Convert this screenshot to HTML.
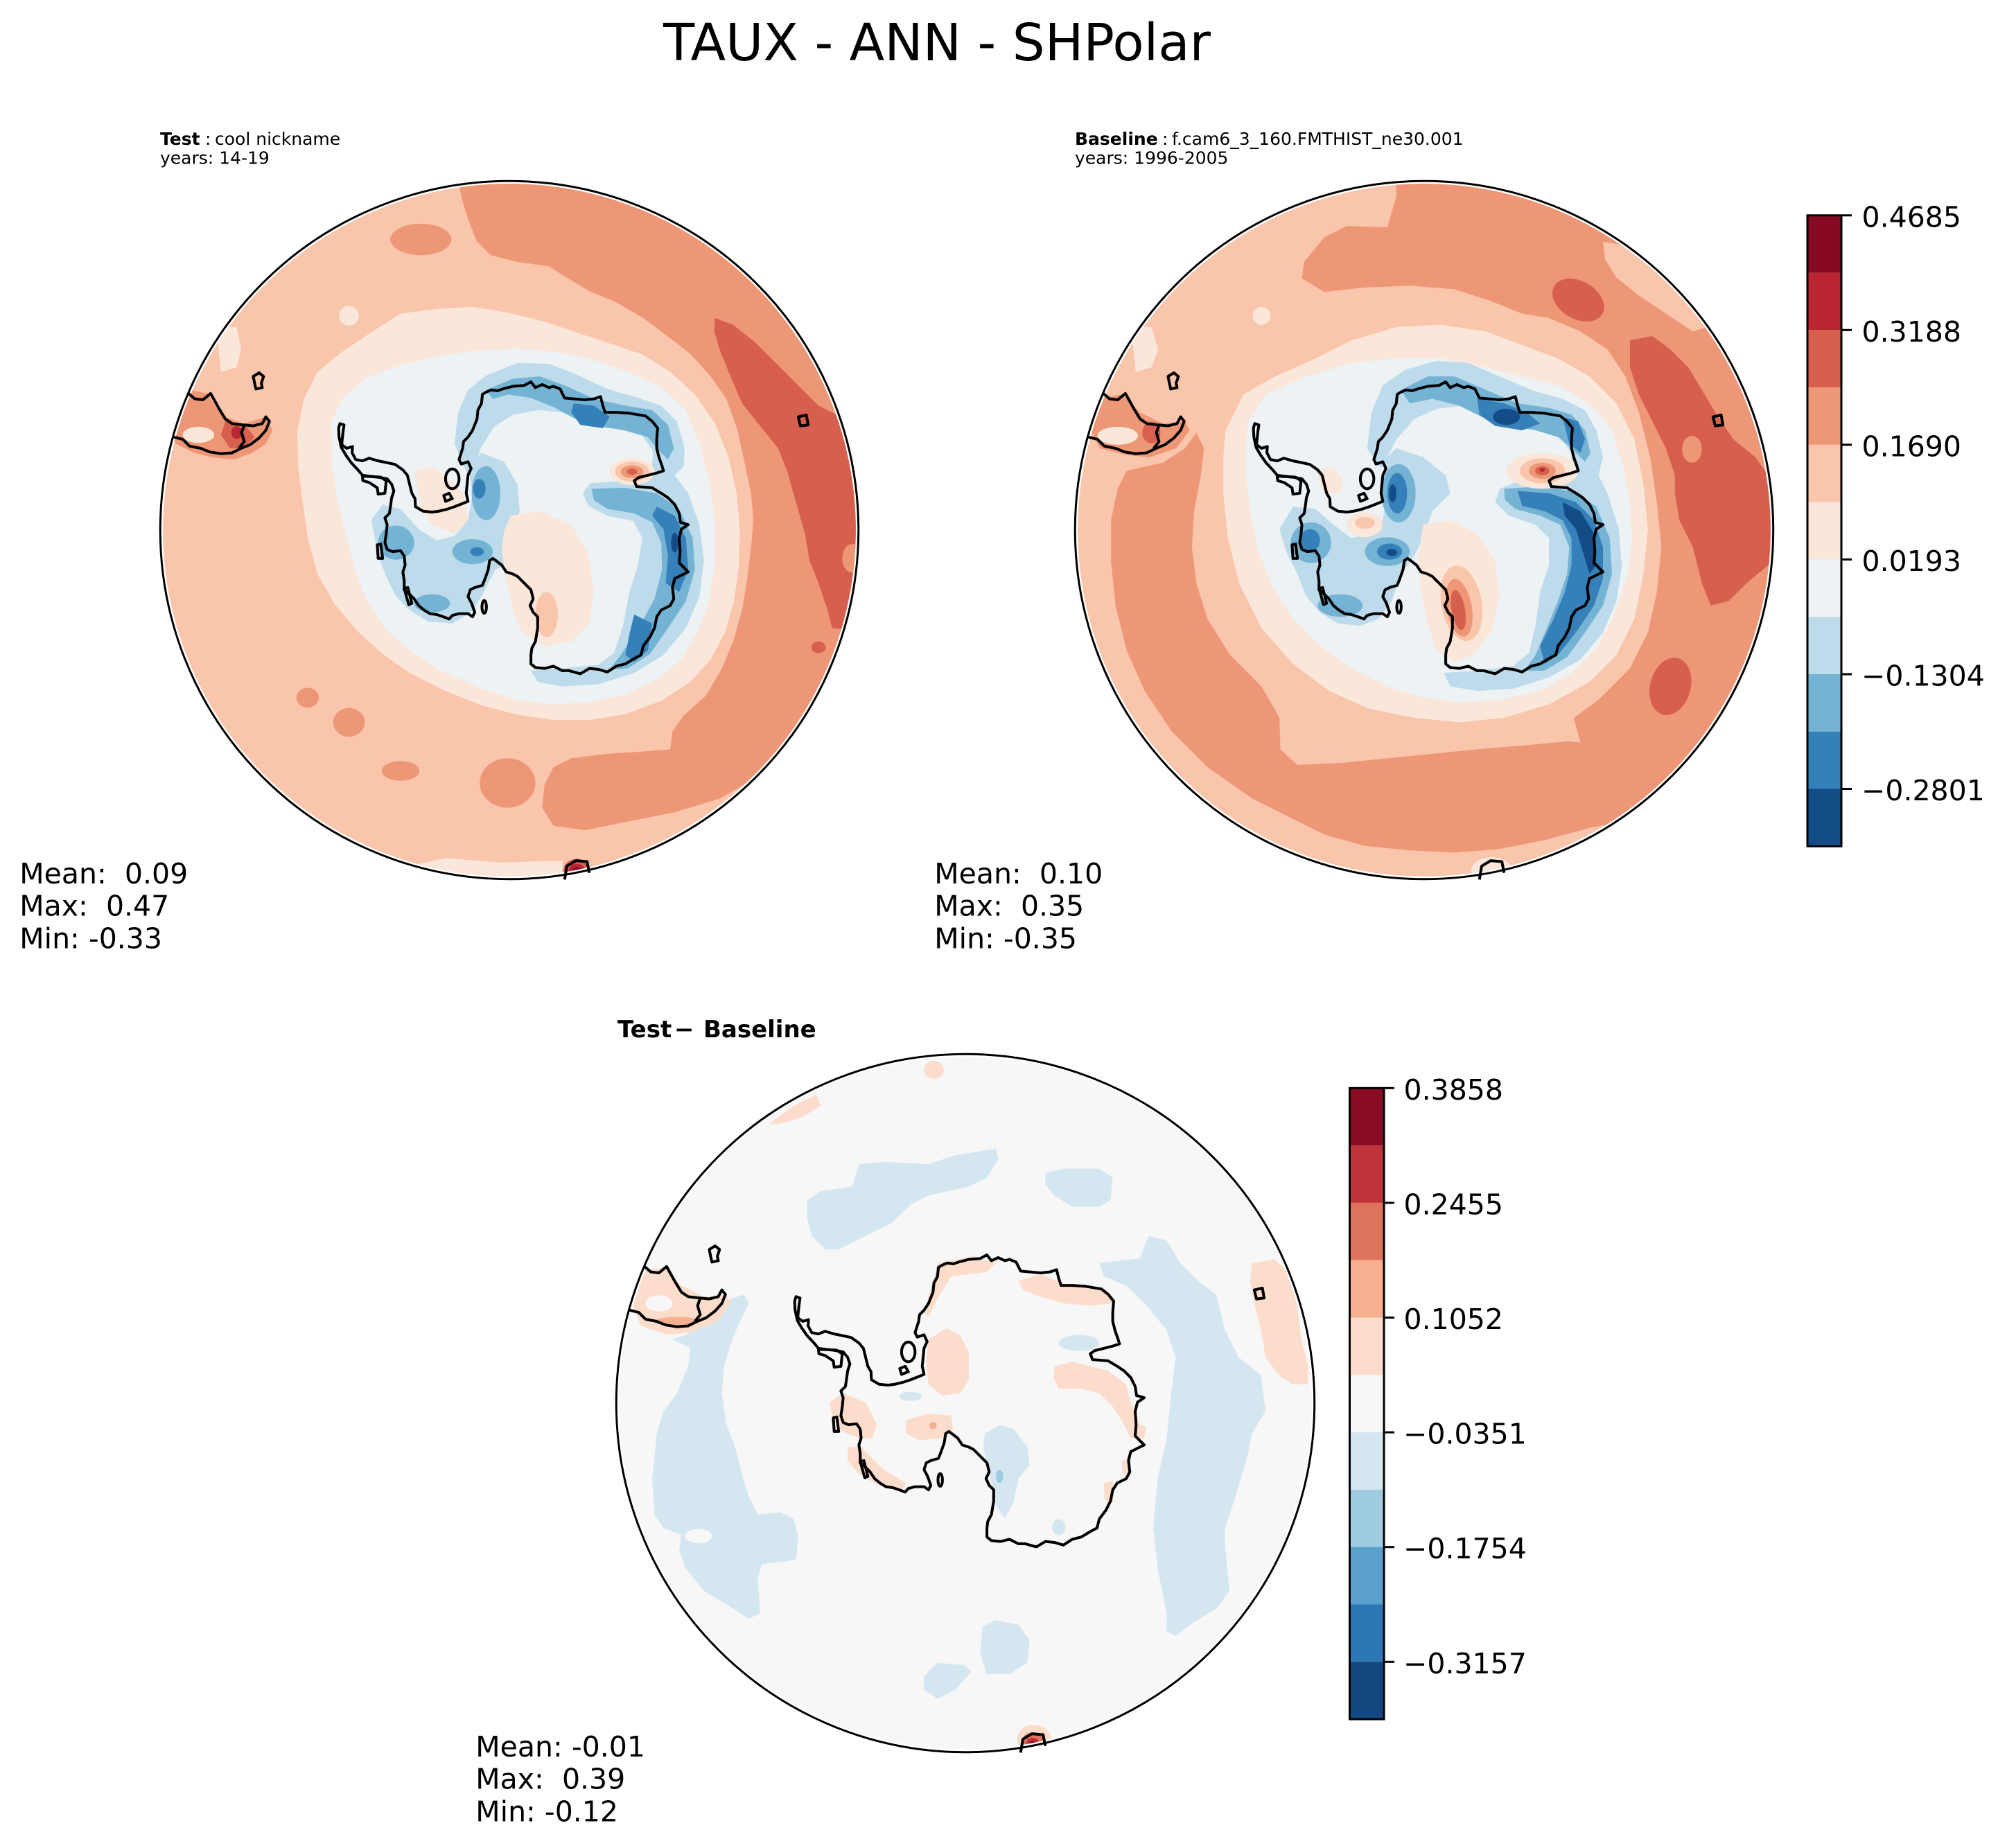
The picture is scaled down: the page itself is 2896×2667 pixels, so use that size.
<!DOCTYPE html>
<html>
<head>
<meta charset="utf-8">
<style>
html,body{margin:0;padding:0;background:#ffffff;}
body{width:2896px;height:2667px;overflow:hidden;}
svg{display:block;}
text{font-family:"DejaVu Sans","Liberation Sans",sans-serif;fill:#000;}
</style>
</head>
<body>
<svg xmlns="http://www.w3.org/2000/svg" width="2896" height="2667" viewBox="0 0 2896 2667">
<defs>
<clipPath id="cc" clipPathUnits="userSpaceOnUse"><circle cx="782" cy="782" r="771"/></clipPath>
</defs>
<rect x="0" y="0" width="2896" height="2667" fill="#ffffff"/>

<!-- Title -->
<text x="957" y="87" font-size="74">TAUX - ANN - SHPolar</text>

<!-- Headers -->
<text x="231" y="209" font-size="25"><tspan font-weight="bold">Test</tspan><tspan x="296">:</tspan><tspan x="310">cool nickname</tspan></text>
<text x="231" y="236.7" font-size="25">years: 14-19</text>
<text x="1551" y="209" font-size="25"><tspan font-weight="bold">Baseline</tspan><tspan x="1677">:</tspan><tspan x="1691">f.cam6_3_160.FMTHIST_ne30.001</tspan></text>
<text x="1551" y="236.7" font-size="25">years: 1996-2005</text>
<text x="891" y="1497" font-size="34" font-weight="bold"><tspan>Test</tspan><tspan x="973">−</tspan><tspan x="1015">Baseline</tspan></text>

<!-- Stats -->
<g font-size="41" xml:space="preserve">
<text x="28.3" y="1275" xml:space="preserve">Mean:  0.09</text>
<text x="28.3" y="1321.7" xml:space="preserve">Max:  0.47</text>
<text x="28.3" y="1368.3" xml:space="preserve">Min: -0.33</text>
<text x="1348.3" y="1275" xml:space="preserve">Mean:  0.10</text>
<text x="1348.3" y="1321.7" xml:space="preserve">Max:  0.35</text>
<text x="1348.3" y="1368.3" xml:space="preserve">Min: -0.35</text>
<text x="686.3" y="2535" xml:space="preserve">Mean: -0.01</text>
<text x="686.3" y="2581.7" xml:space="preserve">Max:  0.39</text>
<text x="686.3" y="2628.3" xml:space="preserve">Min: -0.12</text>
</g>

<!-- ================= TOP-LEFT MAP (Test) ================= -->
<g transform="translate(228,258) scale(0.64832)">
<g clip-path="url(#cc)">
<circle cx="782" cy="782" r="773" fill="#f9c5ab"/>
<polygon fill="#fbe6da" points="130,330 175,330 185,380 175,420 140,430"/>
<polygon fill="#fbe6da" points="560,1530 640,1512 760,1522 900,1518 900,1600 560,1600"/>
<polygon fill="#ee9777" points="665,-20 1600,-20 1600,1330 1330,1335 1250,1380 1150,1410 1050,1430 950,1450 880,1440 855,1400 860,1350 880,1310 920,1290 1000,1280 1080,1275 1140,1270 1145,1230 1170,1195 1220,1150 1255,1090 1280,1030 1300,960 1310,900 1320,820 1325,760 1320,700 1305,630 1290,560 1265,490 1230,440 1185,390 1140,355 1080,310 1020,275 960,250 910,220 870,195 800,185 740,170 710,140 690,90 675,40"/>
<polygon fill="#d6604d" points="1240,310 1280,325 1330,365 1380,415 1430,465 1470,505 1540,540 1600,560 1600,1010 1540,1005 1500,1000 1490,960 1470,900 1450,850 1440,790 1420,720 1400,650 1380,600 1340,550 1300,500 1270,430 1250,380 1238,340"/>
<ellipse cx="1545" cy="845" rx="22" ry="32" fill="#ee9777"/>
<ellipse cx="1470" cy="1043" rx="16" ry="13" fill="#d6604d"/>
<ellipse cx="585" cy="135" rx="68" ry="35" fill="#ee9777"/>
<ellipse cx="333" cy="1155" rx="25" ry="22" fill="#ee9777"/>
<ellipse cx="425" cy="1210" rx="35" ry="32" fill="#ee9777"/>
<ellipse cx="540" cy="1318" rx="42" ry="22" fill="#ee9777"/>
<ellipse cx="778" cy="1345" rx="62" ry="55" fill="#ee9777"/>
<!-- South America -->
<polygon fill="#ee9777" points="30,470 70,470 110,478 130,510 150,530 190,545 240,530 255,560 240,590 210,610 170,625 120,620 80,610 40,590 20,560"/>
<ellipse cx="90" cy="570" rx="35" ry="18" fill="#fbe6da"/>
<polygon fill="#d6604d" points="150,540 195,550 215,575 190,600 160,600 140,570"/>
<ellipse cx="175" cy="565" rx="12" ry="14" fill="#b92632"/>
<!-- rings -->
<polygon fill="#fbe6da" points="310,560 325,490 355,430 410,385 470,345 540,300 620,290 700,285 780,298 860,318 940,345 1010,368 1080,392 1140,430 1195,480 1240,545 1270,620 1288,700 1295,780 1293,860 1282,940 1262,1010 1230,1070 1185,1120 1120,1162 1040,1192 960,1205 880,1205 800,1193 720,1172 640,1140 560,1100 500,1058 445,1008 395,950 355,880 333,800 322,720 312,640"/>
<circle cx="425" cy="305" r="22" fill="#fbe6da"/>
<polygon fill="#edf2f5" points="385,545 410,490 460,445 530,418 610,398 700,383 800,378 880,385 960,400 1040,428 1115,460 1175,515 1205,590 1228,680 1240,770 1240,860 1225,945 1200,1010 1165,1070 1110,1115 1040,1148 960,1165 880,1170 800,1160 720,1135 630,1095 560,1050 505,1000 465,940 438,870 420,800 400,720 388,640"/>
<!-- blues -->
<polygon fill="#bddbea" points="660,590 668,520 690,470 730,438 800,410 870,412 930,435 1000,468 1070,488 1120,505 1155,540 1172,600 1170,640 1150,660 1180,700 1205,770 1215,850 1205,930 1175,1000 1125,1060 1060,1100 980,1125 900,1130 845,1120 830,1095 900,1090 980,1082 1015,1055 1035,995 1048,925 1068,860 1078,800 1058,762 1000,750 958,728 945,700 962,678 1040,672 1098,655 1102,608 1078,572 1020,556 950,540 900,520 848,515 790,525 748,552 718,600 705,640 690,660"/>
<polygon fill="#bddbea" points="475,760 500,725 540,735 580,780 620,805 660,795 690,760 700,700 690,640 720,610 770,630 800,680 805,740 790,790 800,820 790,855 750,870 725,920 700,962 655,990 600,985 560,960 530,930 510,890 490,840"/>
<polygon fill="#75b3d4" points="730,470 790,445 850,440 910,462 970,490 1040,505 1100,515 1135,548 1148,600 1135,625 1110,600 1090,575 1040,560 985,552 930,535 880,508 830,488 780,480 745,490"/>
<polygon fill="#75b3d4" points="965,690 1040,688 1110,700 1160,735 1190,800 1195,870 1175,940 1135,1000 1095,1058 1045,1090 1005,1092 1030,1060 1070,1000 1105,935 1122,870 1120,810 1100,765 1060,745 1000,735 970,715"/>
<ellipse cx="730" cy="700" rx="32" ry="60" fill="#75b3d4"/>
<ellipse cx="530" cy="810" rx="40" ry="38" fill="#75b3d4"/>
<ellipse cx="700" cy="830" rx="45" ry="28" fill="#75b3d4"/>
<ellipse cx="610" cy="945" rx="40" ry="20" fill="#75b3d4"/>
<polygon fill="#3580b9" points="1110,730 1150,750 1175,800 1180,870 1160,920 1130,900 1135,840 1125,780 1100,750"/>
<polygon fill="#3580b9" points="1060,970 1100,990 1090,1050 1060,1075 1040,1060 1050,1010"/>
<polygon fill="#3580b9" points="925,500 970,505 1005,530 990,555 940,548 920,520"/>
<ellipse cx="715" cy="690" rx="14" ry="22" fill="#3580b9"/>
<ellipse cx="710" cy="830" rx="15" ry="10" fill="#3580b9"/>
<ellipse cx="1150" cy="810" rx="8" ry="22" fill="#144c88"/>
<!-- interior positives -->
<polygon fill="#fbe6da" points="785,750 850,740 920,770 955,830 970,910 960,990 920,1030 860,1040 810,1010 790,960 775,890 765,830 770,785"/>
<ellipse cx="865" cy="970" rx="25" ry="50" fill="#f9c5ab"/>
<polygon fill="#fbe6da" points="570,650 610,640 640,660 680,700 690,760 660,790 610,770 585,730"/>
<ellipse cx="1055" cy="652" rx="50" ry="30" fill="#fbe6da"/>
<ellipse cx="1055" cy="652" rx="38" ry="22" fill="#f9c5ab"/>
<ellipse cx="1055" cy="652" rx="25" ry="14" fill="#ee9777"/>
<ellipse cx="1055" cy="652" rx="12" ry="7" fill="#d6604d"/>
<!-- bottom spot -->
<ellipse cx="932" cy="1540" rx="30" ry="26" fill="#d6604d"/>
<ellipse cx="932" cy="1540" rx="18" ry="15" fill="#b92632"/>
<ellipse cx="932" cy="1540" rx="10" ry="8" fill="#870a24"/>
</g>
<g fill="none" stroke="#000" stroke-width="6.2" stroke-linejoin="round">
<path d="M405,545 L414,548 L412,562 L410,580 L409,592 L420,600 L433,596 L432,610 L440,625 L455,628 L470,622 L490,628 L510,632 L528,636 L545,648 L555,660 L560,680 L565,700 L572,712 L573,730 L590,740 L610,742 L625,740 L645,735 L660,730 L680,722 L690,718 L686,700 L688,680 L690,660 L697,645 L690,630 L675,635 L670,625 L678,600 L680,585 L690,575 L700,560 L710,535 L712,515 L720,500 L722,480 L730,475 L742,470 L755,472 L770,467 L790,462 L815,460 L830,452 L840,465 L855,458 L870,465 L880,462 L895,468 L905,488 L925,490 L950,492 L970,490 L985,485 L990,505 L995,520 L1020,520 L1050,522 L1085,528 L1100,540 L1112,555 L1110,580 L1110,600 L1115,620 L1122,640 L1125,650 L1110,655 L1090,660 L1070,665 L1060,672 L1065,685 L1100,688 L1120,700 L1135,710 L1150,725 L1160,745 L1163,765 L1180,770 L1165,780 L1160,800 L1162,830 L1160,855 L1170,865 L1180,875 L1160,885 L1150,890 L1145,910 L1148,935 L1140,950 L1120,960 L1110,975 L1105,1000 L1095,1020 L1080,1040 L1075,1060 L1060,1068 L1040,1080 L1020,1085 L1000,1098 L980,1092 L960,1090 L940,1102 L915,1095 L900,1095 L880,1085 L860,1090 L840,1088 L830,1080 L830,1060 L832,1045 L840,1030 L845,1000 L845,975 L835,965 L828,950 L835,935 L830,915 L815,900 L800,885 L790,880 L775,875 L765,860 L752,850 L745,845 L738,850 L735,870 L728,890 L722,905 L705,910 L695,915 L690,930 L698,945 L705,965 L700,975 L690,968 L670,968 L655,972 L648,980 L635,975 L620,970 L605,968 L592,960 L580,950 L570,935 L560,925 L548,915 L548,895 L545,875 L550,860 L548,840 L540,828 L522,830 L510,825 L505,810 L508,790 L510,770 L505,755 L515,745 L518,725 L520,710 L525,695 L520,680 L510,668 L495,665 L470,662 L455,660 L445,648 L430,632 L418,615 L408,598 L403,575 L402,555 Z"/>
<path d="M455,662 L495,664 L508,672 L505,700 L490,702 L488,688 L470,676 L456,672 Z"/>
<ellipse cx="655" cy="668" rx="15" ry="22"/>
<path d="M636,705 L648,700 L655,712 L640,718 Z"/>
<path d="M488,815 L496,813 L500,845 L490,845 Z"/>
<ellipse cx="726" cy="953" rx="5" ry="14"/>
<path d="M548,912 L556,910 L565,945 L558,948 Z"/>
<path d="M35,575 L55,580 L70,595 L95,600 L115,608 L140,612 L165,610 L185,600 L205,592 L225,577 L240,560 L248,540 L240,530 L232,545 L212,550 L192,548 L186,565 L192,585 L180,600"/>
<path d="M68,478 L82,490 L100,492 L117,478 L126,494 L136,512 L150,535 L165,545 L190,548"/>
<path d="M212,440 L225,432 L235,440 L230,455 L232,465 L218,468 L215,455 Z"/>
<path d="M1425,530 L1443,526 L1447,548 L1430,550 Z"/>
<path d="M905,1560 L910,1530 L930,1518 L955,1520 L960,1545"/>
</g>
<circle cx="782" cy="782" r="777" fill="none" stroke="#000" stroke-width="4.6"/>
</g>

<!-- ================= TOP-RIGHT MAP (Baseline) ================= -->
<g transform="translate(1548,258) scale(0.64832)">
<g clip-path="url(#cc)">
<circle cx="782" cy="782" r="773" fill="#f9c5ab"/>
<polygon fill="#fbe6da" points="130,330 175,330 190,380 175,420 140,430"/>
<polygon fill="#ee9777" points="720,-20 1620,-20 1620,1330 1330,1420 1230,1430 1150,1445 1050,1472 950,1492 850,1500 750,1495 650,1485 560,1460 480,1420 400,1380 300,1310 220,1230 160,1140 120,1050 95,950 85,850 85,760 100,690 120,650 200,632 250,600 275,565 292,600 285,660 270,740 265,820 275,900 300,980 350,1060 420,1130 460,1200 462,1270 500,1305 600,1300 700,1290 800,1280 900,1270 1000,1262 1100,1252 1130,1255 1115,1200 1170,1160 1240,1090 1280,1010 1300,920 1310,820 1300,720 1285,620 1260,520 1230,440 1190,380 1130,340 1060,310 1000,300 930,272 850,246 750,238 650,242 560,252 510,222 515,185 560,130 610,105 700,108 720,40"/>
<polygon fill="#f9c5ab" points="1180,140 1240,150 1300,200 1360,260 1410,330 1380,340 1320,300 1260,260 1210,220 1185,180"/>
<polygon fill="#d6604d" points="1240,360 1290,350 1330,380 1370,420 1400,470 1430,520 1470,580 1520,620 1560,680 1560,850 1500,900 1460,940 1420,950 1400,900 1380,820 1350,760 1340,700 1340,660 1320,600 1290,540 1260,480 1240,420"/>
<ellipse cx="1378" cy="602" rx="22" ry="30" fill="#ee9777"/>
<ellipse cx="1125" cy="270" rx="62" ry="42" transform="rotate(30 1125 270)" fill="#d6604d"/>
<ellipse cx="1330" cy="1130" rx="45" ry="65" transform="rotate(15 1330 1130)" fill="#d6604d"/>
<!-- South America -->
<polygon fill="#ee9777" points="50,490 110,480 150,520 200,545 250,540 260,560 230,600 170,620 120,615 60,600 40,560"/>
<ellipse cx="100" cy="572" rx="45" ry="20" fill="#fbe6da"/>
<ellipse cx="175" cy="565" rx="20" ry="24" fill="#d6604d"/>
<!-- rings -->
<polygon fill="#fbe6da" points="340,560 380,480 450,440 540,400 620,360 720,330 820,325 920,340 1000,370 1080,400 1150,440 1210,500 1250,580 1270,680 1280,780 1270,880 1250,980 1210,1060 1150,1120 1060,1170 960,1200 860,1210 760,1200 660,1180 570,1140 490,1080 420,1000 370,900 345,800 335,700 335,620"/>
<circle cx="420" cy="305" r="20" fill="#fbe6da"/>
<polygon fill="#edf2f5" points="390,540 430,480 520,440 620,410 720,400 820,400 920,420 1000,440 1080,460 1150,500 1200,560 1225,640 1240,720 1245,800 1235,880 1210,960 1170,1040 1110,1100 1040,1140 950,1160 860,1165 780,1155 700,1130 620,1090 550,1040 490,980 440,900 410,820 395,740 385,660 385,600"/>
<!-- blues -->
<polygon fill="#bddbea" points="655,600 665,520 690,460 740,425 810,405 880,410 950,440 1020,470 1090,490 1140,515 1165,560 1180,620 1170,660 1190,700 1215,780 1222,860 1210,940 1180,1010 1130,1070 1060,1110 980,1135 900,1140 840,1130 825,1100 900,1095 980,1085 1015,1055 1030,995 1040,920 1060,860 1060,800 1030,770 970,750 940,720 950,690 1000,670 1060,672 1110,658 1110,610 1080,570 1000,545 930,520 870,505 810,512 760,535 720,580 700,620 685,645"/>
<polygon fill="#bddbea" points="460,780 490,730 540,735 580,770 620,800 660,790 690,760 700,690 690,630 720,600 780,620 830,660 840,700 800,740 780,800 760,840 730,880 710,940 680,980 640,995 590,990 550,965 520,930 500,880 475,830"/>
<polygon fill="#75b3d4" points="730,470 790,440 850,440 920,470 990,500 1060,510 1110,525 1140,560 1152,610 1140,630 1110,600 1080,575 1030,560 970,550 910,530 860,505 800,490 750,500"/>
<polygon fill="#75b3d4" points="960,690 1040,685 1110,695 1165,730 1195,800 1200,880 1180,950 1140,1010 1100,1065 1050,1095 1005,1095 1030,1060 1055,1000 1080,940 1100,880 1105,820 1085,770 1040,750 985,735 962,715"/>
<ellipse cx="725" cy="700" rx="38" ry="65" fill="#75b3d4"/>
<ellipse cx="530" cy="810" rx="45" ry="45" fill="#75b3d4"/>
<ellipse cx="700" cy="830" rx="50" ry="32" fill="#75b3d4"/>
<ellipse cx="595" cy="950" rx="50" ry="25" fill="#75b3d4"/>
<polygon fill="#3580b9" points="900,490 960,500 1010,520 1040,545 1000,560 940,550 905,525"/>
<polygon fill="#3580b9" points="1090,530 1125,540 1140,580 1130,610 1105,590"/>
<polygon fill="#3580b9" points="990,695 1060,700 1120,720 1160,760 1180,820 1180,890 1160,950 1120,1010 1080,1060 1050,1080 1040,1040 1070,980 1095,920 1110,860 1110,800 1090,760 1050,740 1000,728"/>
<ellipse cx="722" cy="700" rx="22" ry="45" fill="#3580b9"/>
<ellipse cx="528" cy="805" rx="22" ry="25" fill="#3580b9"/>
<ellipse cx="705" cy="830" rx="28" ry="18" fill="#3580b9"/>
<ellipse cx="965" cy="530" rx="30" ry="18" fill="#144c88"/>
<polygon fill="#144c88" points="1090,720 1130,740 1160,790 1165,860 1150,880 1135,830 1120,780 1095,750"/>
<ellipse cx="712" cy="700" rx="8" ry="20" fill="#144c88"/>
<ellipse cx="710" cy="832" rx="12" ry="8" fill="#144c88"/>
<!-- interior positives -->
<polygon fill="#fbe6da" points="780,770 840,760 900,790 940,850 950,930 930,1010 890,1060 850,1075 810,1050 790,990 775,920 768,850"/>
<ellipse cx="865" cy="945" rx="45" ry="85" transform="rotate(-10 865 945)" fill="#f9c5ab"/>
<ellipse cx="860" cy="955" rx="28" ry="65" transform="rotate(-10 860 955)" fill="#ee9777"/>
<ellipse cx="858" cy="960" rx="15" ry="45" transform="rotate(-10 858 960)" fill="#d6604d"/>
<ellipse cx="650" cy="770" rx="40" ry="28" fill="#fbe6da"/>
<ellipse cx="650" cy="766" rx="22" ry="13" fill="#f9c5ab"/>
<polygon fill="#fbe6da" points="540,650 580,640 600,670 595,700 560,700"/>
<ellipse cx="1045" cy="650" rx="80" ry="40" fill="#fbe6da"/>
<ellipse cx="1045" cy="650" rx="50" ry="28" fill="#f9c5ab"/>
<ellipse cx="1045" cy="650" rx="30" ry="18" fill="#ee9777"/>
<ellipse cx="1045" cy="650" rx="16" ry="10" fill="#d6604d"/>
<ellipse cx="1045" cy="648" rx="6" ry="4" fill="#b92632"/>
<ellipse cx="932" cy="1540" rx="45" ry="30" fill="#fbe6da"/>
</g>
<g fill="none" stroke="#000" stroke-width="6.2" stroke-linejoin="round">
<path d="M405,545 L414,548 L412,562 L410,580 L409,592 L420,600 L433,596 L432,610 L440,625 L455,628 L470,622 L490,628 L510,632 L528,636 L545,648 L555,660 L560,680 L565,700 L572,712 L573,730 L590,740 L610,742 L625,740 L645,735 L660,730 L680,722 L690,718 L686,700 L688,680 L690,660 L697,645 L690,630 L675,635 L670,625 L678,600 L680,585 L690,575 L700,560 L710,535 L712,515 L720,500 L722,480 L730,475 L742,470 L755,472 L770,467 L790,462 L815,460 L830,452 L840,465 L855,458 L870,465 L880,462 L895,468 L905,488 L925,490 L950,492 L970,490 L985,485 L990,505 L995,520 L1020,520 L1050,522 L1085,528 L1100,540 L1112,555 L1110,580 L1110,600 L1115,620 L1122,640 L1125,650 L1110,655 L1090,660 L1070,665 L1060,672 L1065,685 L1100,688 L1120,700 L1135,710 L1150,725 L1160,745 L1163,765 L1180,770 L1165,780 L1160,800 L1162,830 L1160,855 L1170,865 L1180,875 L1160,885 L1150,890 L1145,910 L1148,935 L1140,950 L1120,960 L1110,975 L1105,1000 L1095,1020 L1080,1040 L1075,1060 L1060,1068 L1040,1080 L1020,1085 L1000,1098 L980,1092 L960,1090 L940,1102 L915,1095 L900,1095 L880,1085 L860,1090 L840,1088 L830,1080 L830,1060 L832,1045 L840,1030 L845,1000 L845,975 L835,965 L828,950 L835,935 L830,915 L815,900 L800,885 L790,880 L775,875 L765,860 L752,850 L745,845 L738,850 L735,870 L728,890 L722,905 L705,910 L695,915 L690,930 L698,945 L705,965 L700,975 L690,968 L670,968 L655,972 L648,980 L635,975 L620,970 L605,968 L592,960 L580,950 L570,935 L560,925 L548,915 L548,895 L545,875 L550,860 L548,840 L540,828 L522,830 L510,825 L505,810 L508,790 L510,770 L505,755 L515,745 L518,725 L520,710 L525,695 L520,680 L510,668 L495,665 L470,662 L455,660 L445,648 L430,632 L418,615 L408,598 L403,575 L402,555 Z"/>
<path d="M455,662 L495,664 L508,672 L505,700 L490,702 L488,688 L470,676 L456,672 Z"/>
<ellipse cx="655" cy="668" rx="15" ry="22"/>
<path d="M636,705 L648,700 L655,712 L640,718 Z"/>
<path d="M488,815 L496,813 L500,845 L490,845 Z"/>
<ellipse cx="726" cy="953" rx="5" ry="14"/>
<path d="M548,912 L556,910 L565,945 L558,948 Z"/>
<path d="M35,575 L55,580 L70,595 L95,600 L115,608 L140,612 L165,610 L185,600 L205,592 L225,577 L240,560 L248,540 L240,530 L232,545 L212,550 L192,548 L186,565 L192,585 L180,600"/>
<path d="M68,478 L82,490 L100,492 L117,478 L126,494 L136,512 L150,535 L165,545 L190,548"/>
<path d="M212,440 L225,432 L235,440 L230,455 L232,465 L218,468 L215,455 Z"/>
<path d="M1425,530 L1443,526 L1447,548 L1430,550 Z"/>
<path d="M905,1560 L910,1530 L930,1518 L955,1520 L960,1545"/>
</g>
<circle cx="782" cy="782" r="777" fill="none" stroke="#000" stroke-width="4.6"/>
</g>

<!-- ================= BOTTOM MAP (Diff) ================= -->
<g transform="translate(886,1518) scale(0.64832)">
<g clip-path="url(#cc)">
<circle cx="782" cy="782" r="773" fill="#f7f7f7"/>
<!-- blue patches -->
<polygon fill="#d4e7f1" points="430,330 460,310 530,300 545,250 600,245 700,250 760,230 850,215 855,240 830,280 790,300 700,320 660,340 620,380 560,410 500,440 470,440 440,410 430,370"/>
<polygon fill="#d4e7f1" points="960,270 1000,260 1080,260 1110,280 1105,330 1080,345 1020,345 980,320 960,295"/>
<polygon fill="#d4e7f1" points="290,540 260,550 230,580 200,610 160,630 130,640 170,660 165,700 140,760 110,800 95,850 85,950 90,1030 110,1060 150,1075 145,1110 160,1150 200,1200 250,1230 300,1262 325,1250 320,1170 330,1140 380,1135 405,1130 410,1080 400,1040 370,1025 320,1030 300,990 290,960 270,880 250,830 240,760 245,700 260,650 280,600 300,560"/>
<ellipse cx="188" cy="1078" rx="30" ry="16" fill="#f7f7f7"/>
<polygon fill="#d4e7f1" points="1080,470 1170,460 1190,410 1230,420 1260,470 1300,510 1340,540 1360,620 1390,680 1440,720 1450,800 1420,850 1410,900 1380,1000 1360,1060 1360,1100 1370,1200 1340,1240 1290,1270 1250,1300 1230,1290 1230,1250 1210,1150 1200,1060 1210,950 1230,860 1240,760 1250,680 1230,620 1190,570 1140,520 1090,500"/>
<polygon fill="#d4e7f1" points="820,1280 850,1265 900,1275 925,1310 920,1360 880,1385 830,1385 815,1340"/>
<polygon fill="#d4e7f1" points="690,1390 720,1360 780,1365 795,1380 760,1420 720,1440 690,1420"/>
<polygon fill="#d4e7f1" points="825,850 860,830 890,840 920,880 925,920 900,950 890,1000 870,1040 850,1010 840,960 830,920 822,880"/>
<ellipse cx="858" cy="945" rx="8" ry="15" fill="#9ecbe1"/>
<ellipse cx="1035" cy="648" rx="45" ry="18" fill="#d4e7f1"/>
<ellipse cx="660" cy="767" rx="25" ry="10" fill="#d4e7f1"/>
<ellipse cx="990" cy="1058" rx="15" ry="18" fill="#d4e7f1"/>
<!-- salmon patches -->
<ellipse cx="712" cy="40" rx="22" ry="20" fill="#fcddcb"/>
<polygon fill="#fcddcb" points="345,160 400,120 450,95 460,120 420,145 370,160"/>
<polygon fill="#fcddcb" points="1420,470 1470,462 1500,490 1520,560 1530,640 1545,700 1545,740 1510,740 1480,720 1450,680 1440,620 1425,560 1415,510"/>
<polygon fill="#fcddcb" points="690,580 720,470 800,455 850,470 830,490 750,500 720,550 700,590"/>
<polygon fill="#fcddcb" points="900,510 950,495 1000,515 1090,530 1110,560 1060,565 1000,560 950,545 910,530"/>
<polygon fill="#fcddcb" points="700,640 740,615 770,630 790,670 790,730 770,760 730,765 700,740 695,690"/>
<polygon fill="#fcddcb" points="980,700 1020,690 1060,700 1100,710 1140,740 1150,780 1170,830 1185,835 1180,860 1150,860 1130,820 1110,790 1080,760 1040,750 990,750 978,725"/>
<polygon fill="#fcddcb" points="480,780 510,760 560,780 585,830 575,860 545,860 520,850 500,840 485,810"/>
<polygon fill="#fcddcb" points="520,880 550,880 600,930 650,960 640,980 580,960 545,940 520,910"/>
<polygon fill="#fcddcb" points="650,820 700,805 750,810 755,840 730,860 680,865 650,850"/>
<ellipse cx="710" cy="832" rx="8" ry="8" fill="#f6af8f"/>
<polygon fill="#fcddcb" points="1130,910 1150,905 1150,940 1132,940"/>
<polygon fill="#fcddcb" points="1090,960 1110,955 1112,1000 1092,1000"/>
<!-- South America -->
<polygon fill="#fcddcb" points="50,490 110,480 150,520 200,545 250,540 260,560 230,600 170,625 120,630 60,610 40,560"/>
<ellipse cx="100" cy="560" rx="30" ry="18" fill="#f7f7f7"/>
<ellipse cx="140" cy="600" rx="50" ry="10" fill="#f6af8f"/>
<!-- bottom spot -->
<ellipse cx="935" cy="1530" rx="38" ry="32" fill="#fcddcb"/>
<ellipse cx="932" cy="1535" rx="24" ry="20" fill="#de735c"/>
<ellipse cx="932" cy="1538" rx="14" ry="11" fill="#bf3237"/>
<ellipse cx="932" cy="1540" rx="8" ry="6" fill="#890b24"/>
</g>
<g fill="none" stroke="#000" stroke-width="6.2" stroke-linejoin="round">
<path d="M405,545 L414,548 L412,562 L410,580 L409,592 L420,600 L433,596 L432,610 L440,625 L455,628 L470,622 L490,628 L510,632 L528,636 L545,648 L555,660 L560,680 L565,700 L572,712 L573,730 L590,740 L610,742 L625,740 L645,735 L660,730 L680,722 L690,718 L686,700 L688,680 L690,660 L697,645 L690,630 L675,635 L670,625 L678,600 L680,585 L690,575 L700,560 L710,535 L712,515 L720,500 L722,480 L730,475 L742,470 L755,472 L770,467 L790,462 L815,460 L830,452 L840,465 L855,458 L870,465 L880,462 L895,468 L905,488 L925,490 L950,492 L970,490 L985,485 L990,505 L995,520 L1020,520 L1050,522 L1085,528 L1100,540 L1112,555 L1110,580 L1110,600 L1115,620 L1122,640 L1125,650 L1110,655 L1090,660 L1070,665 L1060,672 L1065,685 L1100,688 L1120,700 L1135,710 L1150,725 L1160,745 L1163,765 L1180,770 L1165,780 L1160,800 L1162,830 L1160,855 L1170,865 L1180,875 L1160,885 L1150,890 L1145,910 L1148,935 L1140,950 L1120,960 L1110,975 L1105,1000 L1095,1020 L1080,1040 L1075,1060 L1060,1068 L1040,1080 L1020,1085 L1000,1098 L980,1092 L960,1090 L940,1102 L915,1095 L900,1095 L880,1085 L860,1090 L840,1088 L830,1080 L830,1060 L832,1045 L840,1030 L845,1000 L845,975 L835,965 L828,950 L835,935 L830,915 L815,900 L800,885 L790,880 L775,875 L765,860 L752,850 L745,845 L738,850 L735,870 L728,890 L722,905 L705,910 L695,915 L690,930 L698,945 L705,965 L700,975 L690,968 L670,968 L655,972 L648,980 L635,975 L620,970 L605,968 L592,960 L580,950 L570,935 L560,925 L548,915 L548,895 L545,875 L550,860 L548,840 L540,828 L522,830 L510,825 L505,810 L508,790 L510,770 L505,755 L515,745 L518,725 L520,710 L525,695 L520,680 L510,668 L495,665 L470,662 L455,660 L445,648 L430,632 L418,615 L408,598 L403,575 L402,555 Z"/>
<path d="M455,662 L495,664 L508,672 L505,700 L490,702 L488,688 L470,676 L456,672 Z"/>
<ellipse cx="655" cy="668" rx="15" ry="22"/>
<path d="M636,705 L648,700 L655,712 L640,718 Z"/>
<path d="M488,815 L496,813 L500,845 L490,845 Z"/>
<ellipse cx="726" cy="953" rx="5" ry="14"/>
<path d="M548,912 L556,910 L565,945 L558,948 Z"/>
<path d="M35,575 L55,580 L70,595 L95,600 L115,608 L140,612 L165,610 L185,600 L205,592 L225,577 L240,560 L248,540 L240,530 L232,545 L212,550 L192,548 L186,565 L192,585 L180,600"/>
<path d="M68,478 L82,490 L100,492 L117,478 L126,494 L136,512 L150,535 L165,545 L190,548"/>
<path d="M212,440 L225,432 L235,440 L230,455 L232,465 L218,468 L215,455 Z"/>
<path d="M1425,530 L1443,526 L1447,548 L1430,550 Z"/>
<path d="M905,1560 L910,1530 L930,1518 L955,1520 L960,1545"/>
</g>
<circle cx="782" cy="782" r="777" fill="none" stroke="#000" stroke-width="4.6"/>
</g>

<!-- ================= TOP COLORBAR ================= -->
<g>
<rect x="2608" y="310.8" width="49" height="82.77" fill="#870a24"/>
<rect x="2608" y="393.57" width="49" height="82.77" fill="#b92632"/>
<rect x="2608" y="476.34" width="49" height="82.77" fill="#d6604d"/>
<rect x="2608" y="559.11" width="49" height="82.77" fill="#ee9777"/>
<rect x="2608" y="641.88" width="49" height="82.77" fill="#f9c5ab"/>
<rect x="2608" y="724.65" width="49" height="82.77" fill="#fbe6da"/>
<rect x="2608" y="807.42" width="49" height="82.77" fill="#edf2f5"/>
<rect x="2608" y="890.19" width="49" height="82.77" fill="#bddbea"/>
<rect x="2608" y="972.96" width="49" height="82.77" fill="#75b3d4"/>
<rect x="2608" y="1055.73" width="49" height="82.77" fill="#3580b9"/>
<rect x="2608" y="1138.5" width="49" height="82.8" fill="#144c88"/>
<rect x="2608" y="310.8" width="49" height="910.5" fill="none" stroke="#000" stroke-width="3"/>
<g stroke="#000" stroke-width="3">
<line x1="2657" y1="310.8" x2="2672" y2="310.8"/>
<line x1="2657" y1="476.3" x2="2672" y2="476.3"/>
<line x1="2657" y1="641.9" x2="2672" y2="641.9"/>
<line x1="2657" y1="807.4" x2="2672" y2="807.4"/>
<line x1="2657" y1="973.0" x2="2672" y2="973.0"/>
<line x1="2657" y1="1138.5" x2="2672" y2="1138.5"/>
</g>
<g font-size="41">
<text x="2686.5" y="327.3">0.4685</text>
<text x="2686.5" y="492.8">0.3188</text>
<text x="2686.5" y="658.4">0.1690</text>
<text x="2686.5" y="823.9">0.0193</text>
<text x="2686" y="989.5">−0.1304</text>
<text x="2686" y="1155">−0.2801</text>
</g>
</g>

<!-- ================= BOTTOM COLORBAR ================= -->
<g>
<rect x="1947.5" y="1570.3" width="49.5" height="82.8" fill="#890b24"/>
<rect x="1947.5" y="1653.1" width="49.5" height="82.8" fill="#bf3237"/>
<rect x="1947.5" y="1735.9" width="49.5" height="82.8" fill="#de735c"/>
<rect x="1947.5" y="1818.7" width="49.5" height="82.8" fill="#f6af8f"/>
<rect x="1947.5" y="1901.5" width="49.5" height="82.8" fill="#fcddcb"/>
<rect x="1947.5" y="1984.3" width="49.5" height="82.8" fill="#f7f7f7"/>
<rect x="1947.5" y="2067.1" width="49.5" height="82.8" fill="#d4e7f1"/>
<rect x="1947.5" y="2149.9" width="49.5" height="82.8" fill="#9ecbe1"/>
<rect x="1947.5" y="2232.7" width="49.5" height="82.8" fill="#59a1ca"/>
<rect x="1947.5" y="2315.5" width="49.5" height="82.8" fill="#2d76b4"/>
<rect x="1947.5" y="2398.3" width="49.5" height="82.8" fill="#12487f"/>
<rect x="1947.5" y="1570.3" width="49.5" height="910.8" fill="none" stroke="#000" stroke-width="3"/>
<g stroke="#000" stroke-width="3">
<line x1="1997" y1="1570.3" x2="2012" y2="1570.3"/>
<line x1="1997" y1="1735.9" x2="2012" y2="1735.9"/>
<line x1="1997" y1="1901.5" x2="2012" y2="1901.5"/>
<line x1="1997" y1="2067.1" x2="2012" y2="2067.1"/>
<line x1="1997" y1="2232.7" x2="2012" y2="2232.7"/>
<line x1="1997" y1="2398.3" x2="2012" y2="2398.3"/>
</g>
<g font-size="41">
<text x="2025.5" y="1586.8">0.3858</text>
<text x="2025.5" y="1752.4">0.2455</text>
<text x="2025.5" y="1918">0.1052</text>
<text x="2025" y="2083.6">−0.0351</text>
<text x="2025" y="2249.2">−0.1754</text>
<text x="2025" y="2414.8">−0.3157</text>
</g>
</g>
</svg>
</body>
</html>
